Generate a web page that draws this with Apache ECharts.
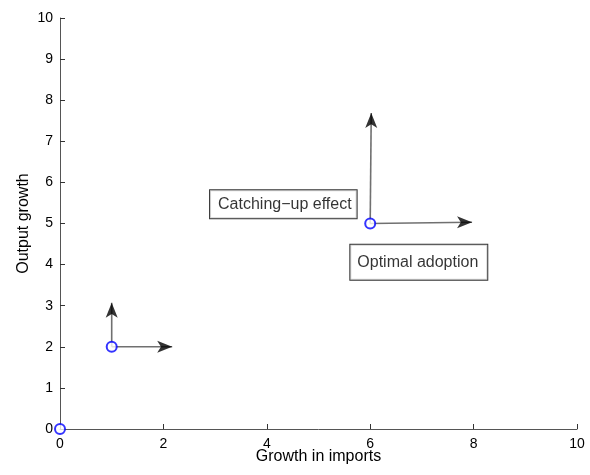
<!DOCTYPE html>
<html>
<head>
<meta charset="utf-8">
<script src="https://cdn.jsdelivr.net/npm/echarts@6/dist/echarts.min.js"></script>
<style>
  html, body { margin: 0; padding: 0; background: #fff; }
  #chart { width: 590px; height: 475px; }
</style>
</head>
<body>
<div id="chart"></div>
<script>
// data
const xTicks = [0, 2, 4, 6, 8, 10]
const yTicks = [0, 1, 2, 3, 4, 5, 6, 7, 8, 9, 10]
const points = [[0, 0], [1, 2], [6, 5]]
const arrowStarts = [[1, 2], [1, 2], [6, 5], [6, 5]]
const arrowEnds = [[2.17, 2], [1, 3.07], [7.97, 5.03], [6.02, 7.69]]
const arrowDirs = ['right', 'up', 'right', 'up']
const notes = ['Catching−up effect', 'Optimal adoption']
const notePos = [[4.32, 5.47], [6.94, 4.06]]
const notePadding = [[5, 5, 5, 8], [8, 9, 9, 7]]

const FONT = 'Liberation Sans, Arial, sans-serif'
const chart = echarts.init(document.getElementById('chart'))

const shaftSeries = arrowStarts.map((s, i) => ({
  type: 'line',
  data: [s, arrowEnds[i]],
  showSymbol: false,
  silent: true,
  z: 2,
  lineStyle: { color: '#707070', width: 1.6 }
}))

const headSeries = {
  type: 'scatter',
  symbol: 'arrow',
  symbolSize: [9, 15],
  silent: true,
  z: 3,
  itemStyle: { color: '#000' },
  data: arrowEnds.map((e, i) => ({
    value: e,
    symbolRotate: arrowDirs[i] === 'right' ? -90 : 0
  }))
}

chart.setOption({
  animation: false,
  grid: { left: 60, right: 13, top: 18, bottom: 46, outerBoundsMode: 'none' },
  xAxis: {
    type: 'value',
    min: 0,
    max: 10,
    interval: 2,
    name: 'Growth in imports',
    nameLocation: 'middle',
    nameGap: 20,
    nameMoveOverlap: false,
    nameTextStyle: { color: '#000', fontSize: 16, fontFamily: FONT },
    axisLine: { onZero: false, lineStyle: { color: '#555', width: 1 } },
    axisTick: { inside: true, length: 5, lineStyle: { color: '#333' } },
    axisLabel: {
      color: '#000', fontSize: 14, fontFamily: FONT, margin: 8,
      formatter: v => (xTicks.includes(v) ? String(v) : '')
    },
    splitLine: { show: false }
  },
  yAxis: {
    type: 'value',
    min: 0,
    max: 10,
    interval: 1,
    name: 'Output growth',
    nameLocation: 'middle',
    nameGap: 28,
    nameMoveOverlap: false,
    nameTextStyle: { color: '#000', fontSize: 16, fontFamily: FONT },
    axisLine: { onZero: false, lineStyle: { color: '#555', width: 1 } },
    axisTick: { inside: true, length: 5, lineStyle: { color: '#333' } },
    axisLabel: {
      color: '#000', fontSize: 14, fontFamily: FONT, margin: 7,
      formatter: v => (yTicks.includes(v) ? String(v) : '')
    },
    splitLine: { show: false }
  },
  series: [
    ...shaftSeries,
    headSeries,
    {
      type: 'scatter',
      symbol: 'emptyCircle',
      symbolSize: 10,
      silent: true,
      z: 4,
      itemStyle: { color: '#0000ff', borderWidth: 1.2 },
      data: points
    },
    {
      type: 'scatter',
      symbolSize: 0,
      silent: true,
      z: 5,
      emphasis: { disabled: true },
      data: notes.map((n, i) => ({
        name: n,
        value: notePos[i],
        label: { padding: notePadding[i] }
      })),
      label: {
        show: true,
        position: 'inside',
        formatter: p => p.name,
        color: '#000',
        fontSize: 16,
        lineHeight: 18,
        fontFamily: FONT,
        backgroundColor: '#fff',
        borderColor: '#000',
        borderWidth: 1
      }
    }
  ]
})
</script>
</body>
</html>
